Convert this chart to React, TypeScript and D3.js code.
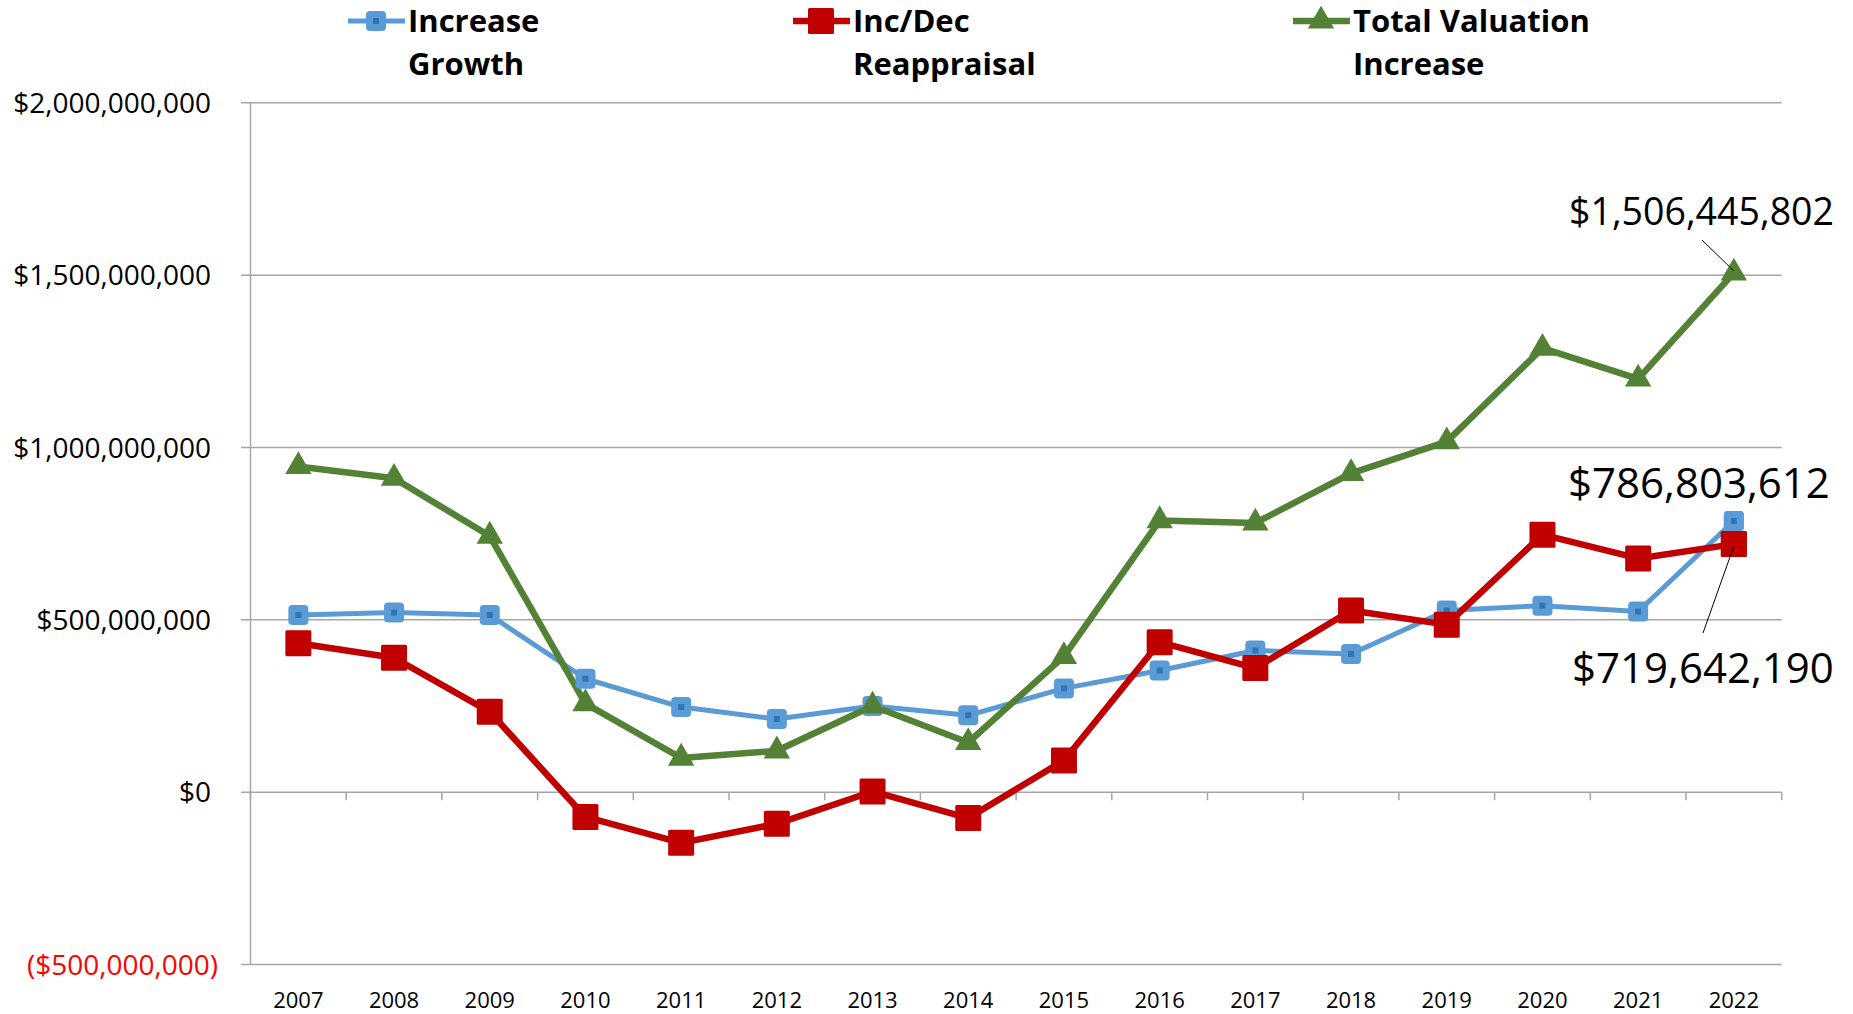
import * as d3 from 'd3';
import React, { useEffect, useRef } from 'react';

const years = ['2007', '2008', '2009', '2010', '2011', '2012', '2013', '2014', '2015', '2016', '2017', '2018', '2019', '2020', '2021', '2022'];

const increaseGrowth = [514e6, 521e6, 514e6, 329e6, 247e6, 212e6, 250e6, 223e6, 301e6, 353e6, 411e6, 401e6, 527e6, 541e6, 524e6, 786803612];
const reappraisal = [432e6, 390e6, 233e6, -72e6, -147e6, -92e6, 2e6, -75e6, 92e6, 435e6, 360e6, 527e6, 486e6, 747e6, 678e6, 719642190];
const totalIncrease = [945e6, 911e6, 743e6, 257e6, 99e6, 120e6, 250e6, 144e6, 394e6, 788e6, 781e6, 925e6, 1017e6, 1288e6, 1199e6, 1506445802];

const yTicks = [-500e6, 0, 500e6, 1000e6, 1500e6, 2000e6];

const seriesNames = [['Increase', 'Growth'], ['Inc/Dec', 'Reappraisal'], ['Total Valuation', 'Increase']];

const BLUE = '#5b9bd5';
const BLUE_DARK = '#2e75b6';
const RED = '#c00000';
const GREEN = '#538135';
const GRID = '#a6a6a6';
const FONT = '"Open Sans", "Noto Sans", sans-serif';

const fmtMoney = (v: number) => {
  const s = '$' + d3.format(',')(Math.abs(Math.round(v)));
  return v < 0 ? '(' + s + ')' : s;
};

const App = () => {
  const ref = useRef<SVGSVGElement>(null);

  useEffect(() => {
    const svg = d3.select(ref.current);
    svg.selectAll('*').remove();

    const x = d3.scaleBand().domain(years).range([250.5, 1781.7]).padding(0);
    const y = d3.scaleLinear().domain([-500e6, 2000e6]).range([964.5, 102.8]);
    const cx = (i: number) => (x(years[i]) as number) + x.bandwidth() / 2;

    // gridlines + y labels
    const grid = svg.append('g');
    yTicks.forEach(t => {
      grid.append('line')
        .attr('x1', 241).attr('x2', 1781.7)
        .attr('y1', y(t)).attr('y2', y(t))
        .attr('stroke', GRID).attr('stroke-width', 1.5);
      grid.append('text')
        .attr('x', t < 0 ? 218 : 211).attr('y', y(t)).attr('dy', '0.36em')
        .attr('text-anchor', 'end')
        .attr('font-family', FONT).attr('font-size', 28)
        .attr('fill', t < 0 ? '#ff0000' : '#000')
        .text(fmtMoney(t));
    });

    // y axis line
    svg.append('line')
      .attr('x1', 250.5).attr('x2', 250.5)
      .attr('y1', y(2000e6)).attr('y2', y(-500e6))
      .attr('stroke', GRID).attr('stroke-width', 1.5);

    // x ticks at band edges on zero line
    const edges = years.map(yr => x(yr) as number).concat([1781.7]);
    edges.forEach(e => {
      svg.append('line')
        .attr('x1', e).attr('x2', e)
        .attr('y1', y(0)).attr('y2', y(0) + 8)
        .attr('stroke', GRID).attr('stroke-width', 1.5);
    });

    // year labels
    svg.append('g').selectAll('text')
      .data(years)
      .join('text')
      .attr('x', (d, i) => cx(i))
      .attr('y', 1008)
      .attr('text-anchor', 'middle')
      .attr('font-family', FONT).attr('font-size', 22)
      .text(d => d);

    const line = d3.line<number>()
      .x((d, i) => cx(i))
      .y(d => y(d));

    const tri = d3.symbol().type(d3.symbolTriangle).size(300);

    // Increase Growth (blue)
    svg.append('path').attr('d', line(increaseGrowth))
      .attr('fill', 'none').attr('stroke', BLUE).attr('stroke-width', 5).attr('stroke-linejoin', 'round');
    // Reappraisal (red)
    svg.append('path').attr('d', line(reappraisal))
      .attr('fill', 'none').attr('stroke', RED).attr('stroke-width', 6.5).attr('stroke-linejoin', 'round');
    // Total (green)
    svg.append('path').attr('d', line(totalIncrease))
      .attr('fill', 'none').attr('stroke', GREEN).attr('stroke-width', 6.5).attr('stroke-linejoin', 'round');

    const blueMarker = (g: any, px: number, py: number) => {
      g.append('rect').attr('x', px - 10).attr('y', py - 10).attr('width', 20).attr('height', 20)
        .attr('rx', 4).attr('fill', BLUE);
      g.append('rect').attr('x', px - 3).attr('y', py - 3).attr('width', 6).attr('height', 6)
        .attr('fill', BLUE_DARK);
    };
    const redMarker = (g: any, px: number, py: number) => {
      g.append('rect').attr('x', px - 13).attr('y', py - 13).attr('width', 26).attr('height', 26)
        .attr('rx', 1.5).attr('fill', RED);
    };
    const greenMarker = (g: any, px: number, py: number) => {
      g.append('path').attr('d', tri).attr('transform', `translate(${px},${py})`).attr('fill', GREEN);
    };

    const mk = svg.append('g');
    increaseGrowth.forEach((v, i) => blueMarker(mk, cx(i), y(v)));
    reappraisal.forEach((v, i) => redMarker(mk, cx(i), y(v)));
    totalIncrease.forEach((v, i) => greenMarker(mk, cx(i), y(v)));
    // last blue point sits on top, last red above it
    blueMarker(mk, cx(15), y(increaseGrowth[15]));
    redMarker(mk, cx(15), y(reappraisal[15]));

    // annotations
    const last = years.length - 1;
    const ann = svg.append('g').attr('font-family', FONT);
    ann.append('text').attr('x', 1569).attr('y', 225).attr('font-size', 37.5).text(fmtMoney(totalIncrease[last]));
    ann.append('line').attr('x1', 1702).attr('y1', 240).attr('x2', cx(last)).attr('y2', y(totalIncrease[last]) - 2)
      .attr('stroke', '#000').attr('stroke-width', 1);
    ann.append('text').attr('x', 1568).attr('y', 498).attr('font-size', 42).text(fmtMoney(increaseGrowth[last]));
    ann.append('text').attr('x', 1572).attr('y', 683).attr('font-size', 42).text(fmtMoney(reappraisal[last]));
    ann.append('line').attr('x1', 1703).attr('y1', 633).attr('x2', cx(last)).attr('y2', y(reappraisal[last]) + 2)
      .attr('stroke', '#000').attr('stroke-width', 1);

    // legend
    const legendX = [408, 853, 1353];
    const leg = svg.append('g');
    legendX.forEach((lx, i) => {
      const color = [BLUE, RED, GREEN][i];
      const sy = 21;
      leg.append('line').attr('x1', lx - 60).attr('x2', lx - 3).attr('y1', sy).attr('y2', sy)
        .attr('stroke', color).attr('stroke-width', i === 0 ? 5 : 6.5);
      const mx = lx - 32;
      if (i === 0) blueMarker(leg, mx, sy);
      else if (i === 1) redMarker(leg, mx, sy);
      else greenMarker(leg, mx, sy);
      seriesNames[i].forEach((t, j) => {
        leg.append('text').attr('x', lx).attr('y', 32 + j * 43)
          .attr('font-family', FONT).attr('font-weight', 700).attr('font-size', 31)
          .text(t);
      });
    });
  }, []);

  return (
    <svg ref={ref} width={1853} height={1014} style={{ position: 'absolute', left: 0, top: 0, background: '#fff' }}></svg>
  );
};

export default App;
